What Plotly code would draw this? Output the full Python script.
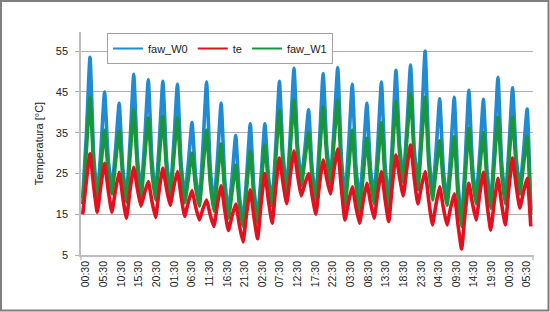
import numpy as np
import plotly.graph_objects as go

# ---------------- data ----------------
tick_labels = ["00:30", "05:30", "10:30", "15:30", "20:30", "01:30", "06:30", "11:30",
               "16:30", "21:30", "02:30", "07:30", "12:30", "17:30", "22:30", "03:30",
               "08:30", "13:30", "18:30", "23:30", "04:30", "09:30", "14:30", "19:30",
               "00:30", "05:30"]
tick_hours = [5 * i for i in range(len(tick_labels))]   # hours after first label

# samples (hours after first label), regular sampling
t_start = -0.93
t_step = 1.0325

faw_W0 = [19.0,
          34.5, 53.5, 29.7, 19.5,
          31.0, 45.0, 28.5, 21.5,
          30.8, 42.2, 26.3, 19.5,
          32.9, 49.3, 29.1, 20.5,
          32.9, 48.0, 28.4, 20.0,
          32.4, 47.6, 28.6, 20.5,
          32.4, 46.9, 27.7, 19.5,
          27.6, 37.5, 24.2, 18.5,
          31.5, 47.4, 26.5, 17.5,
          28.6, 42.2, 23.5, 15.5,
          24.0, 34.3, 19.7, 13.5,
          24.2, 37.2, 21.3, 14.5,
          24.7, 37.2, 24.1, 18.5,
          31.6, 47.6, 29.3, 21.5,
          34.7, 50.8, 31.7, 23.5,
          31.2, 40.6, 25.8, 19.5,
          33.0, 49.5, 31.6, 24.0,
          36.2, 51.0, 29.0, 19.5,
          31.8, 46.9, 27.0, 18.5,
          29.2, 42.2, 26.3, 19.5,
          32.1, 47.4, 27.2, 18.5,
          32.8, 50.3, 31.9, 24.0,
          36.4, 51.6, 31.2, 22.5,
          37.1, 55.0, 30.5, 20.0,
          30.5, 43.3, 25.9, 18.5,
          29.8, 43.7, 22.8, 13.8,
          28.0, 45.4, 26.9, 19.0,
          29.9, 43.2, 25.6, 18.0,
          31.8, 48.6, 27.9, 19.0,
          31.2, 46.0, 28.9, 21.5,
          30.2, 40.8, 16.0]

faw_W1 = [17.5,
          30.6, 43.7, 27.0, 18.0,
          26.8, 35.6, 25.5, 20.0,
          27.7, 35.4, 24.1, 18.0,
          29.3, 40.5, 26.5, 19.0,
          28.8, 38.6, 25.5, 18.5,
          28.8, 39.0, 26.1, 19.2,
          28.9, 38.6, 25.1, 17.8,
          23.9, 30.0, 21.6, 17.0,
          26.3, 35.6, 22.8, 15.8,
          24.0, 32.2, 20.4, 14.0,
          20.5, 27.0, 17.3, 12.0,
          21.3, 30.5, 19.0, 12.8,
          22.4, 32.0, 22.3, 17.0,
          28.7, 40.4, 27.1, 20.0,
          31.5, 43.0, 29.4, 22.0,
          28.5, 35.0, 23.7, 17.6,
          29.5, 41.3, 29.1, 22.6,
          32.8, 43.0, 26.0, 16.8,
          26.2, 35.6, 22.5, 15.5,
          24.5, 33.6, 23.2, 17.6,
          27.5, 37.4, 23.8, 16.5,
          29.6, 42.7, 29.8, 22.8,
          33.6, 44.4, 29.2, 21.0,
          32.4, 43.7, 27.3, 18.5,
          25.8, 33.0, 22.7, 17.2,
          25.6, 34.0, 19.7, 12.0,
          24.0, 36.0, 24.0, 17.6,
          26.3, 35.0, 23.0, 16.5,
          27.7, 38.8, 25.0, 17.6,
          28.2, 38.8, 26.6, 20.0,
          27.0, 34.0, 15.0]

te = [15.0,
      23.1, 29.8, 21.9, 15.5,
      22.1, 27.5, 20.9, 15.5,
      20.9, 25.3, 19.1, 14.0,
      20.9, 26.5, 21.3, 17.0,
      20.3, 23.0, 18.2, 14.2,
      20.9, 26.3, 21.3, 17.2,
      21.8, 25.5, 19.5, 14.5,
      18.0, 20.8, 16.8, 13.6,
      16.3, 18.5, 14.9, 12.0,
      17.5, 22.0, 16.0, 11.0,
      14.6, 17.5, 12.4, 8.2,
      15.2, 21.0, 14.4, 9.0,
      17.8, 25.0, 18.3, 12.8,
      21.6, 28.8, 22.6, 17.6,
      24.7, 30.5, 24.5, 19.5,
      22.5, 25.0, 19.5, 15.0,
      22.3, 28.3, 23.7, 20.0,
      26.0, 31.0, 21.4, 13.6,
      18.1, 21.7, 16.8, 12.8,
      18.2, 22.6, 17.9, 14.0,
      20.3, 25.5, 18.7, 13.2,
      22.2, 29.5, 24.0, 19.5,
      26.4, 32.0, 24.0, 17.5,
      21.9, 25.5, 18.3, 12.4,
      17.5, 21.7, 16.6, 12.4,
      16.6, 20.0, 12.6, 6.5,
      15.4, 22.6, 17.6, 13.6,
      20.0, 25.3, 17.5, 11.1,
      18.1, 23.8, 17.5, 12.4,
      21.4, 28.8, 22.0, 16.5,
      20.5, 23.8, 12.0]

t = t_start + t_step * np.arange(len(faw_W0))

# ---------------- style ----------------
FONT = "Liberation Sans Narrow, Arial Narrow, Liberation Sans, Arial, sans-serif"
BLUE, RED, GREEN = "#1f8bd2", "#e3101f", "#17963c"
W, H = 550, 312
L, R, T, B = 81, 533, 32, 255   # plot area in px
LW = 3.6
SMOOTH = 0.45


def px_x(p):
    return (p - L) / (R - L)


def px_y(p):
    return (B - p) / (B - T)


fig = go.Figure()
series = [("faw_W0", faw_W0, BLUE), ("faw_W1", faw_W1, GREEN), ("te", te, RED)]
for name, vals, col in series:
    fig.add_trace(go.Scatter(x=t, y=vals, name=name, mode="lines", showlegend=False,
                             line=dict(color=col, width=LW, shape="spline", smoothing=SMOOTH)))
# legend entries (thin line samples like the original)
for name, col in [("faw_W0", BLUE), ("te", RED), ("faw_W1", GREEN)]:
    fig.add_trace(go.Scatter(x=[None], y=[None], name=name, mode="lines",
                             line=dict(color=col, width=2)))

fig.update_layout(
    width=W, height=H,
    margin=dict(l=L, r=W - R, t=T, b=H - B, autoexpand=False),
    paper_bgcolor="white", plot_bgcolor="white",
    font=dict(family=FONT, size=11, color="#222222"),
    showlegend=True,
    legend=dict(orientation="h", x=px_x(107), y=px_y(33), xanchor="left", yanchor="top",
                bgcolor="white", bordercolor="#a0a0a0", borderwidth=1,
                font=dict(size=11), itemwidth=30, tracegroupgap=0),
    xaxis=dict(range=[-1.417, 126.7], tickmode="array", tickvals=tick_hours,
               ticktext=tick_labels, tickangle=-90, showgrid=False, zeroline=False,
               showline=True, linecolor="#bdbdbd", linewidth=1.5, ticks="",
               tickfont=dict(size=10.5), automargin=False),
    yaxis=dict(range=[5, 59.7], tickvals=[5, 15, 25, 35, 45, 55], showgrid=True,
               gridcolor="#b0b0b0", gridwidth=1, zeroline=False, showline=True,
               linecolor="#bdbdbd", linewidth=1.5, ticks="outside", ticklen=4,
               tickcolor="#b0b0b0", tickfont=dict(size=11), ticklabelstandoff=5,
               title=dict(text="Temperatura [°C]", font=dict(size=11), standoff=10),
               automargin=False),
    shapes=[
        dict(type="rect", xref="paper", yref="paper", x0=px_x(1), x1=px_x(548.5),
             y0=px_y(310.5), y1=px_y(1), line=dict(color="#7f7f7f", width=2),
             fillcolor="rgba(0,0,0,0)", layer="below"),
        dict(type="line", xref="paper", yref="paper", x0=px_x(R), x1=px_x(R),
             y0=px_y(B), y1=px_y(B + 5), line=dict(color="#bdbdbd", width=1.5)),
        dict(type="line", xref="paper", yref="paper", x0=px_x(L), x1=px_x(L),
             y0=px_y(B), y1=px_y(B + 5), line=dict(color="#bdbdbd", width=1.5)),
    ],
)

fig.write_html("out.html")
